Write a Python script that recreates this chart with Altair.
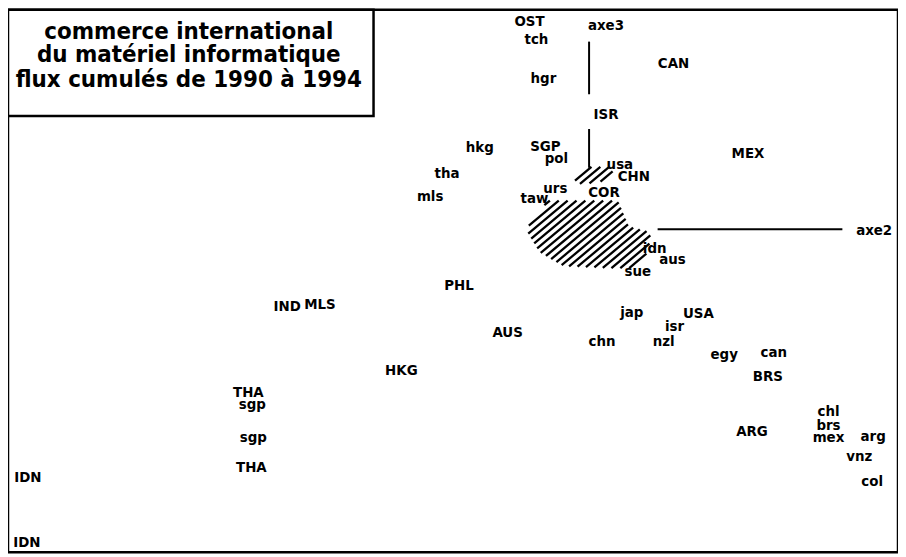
import altair as alt
import pandas as pd
import numpy as np

# ---- data (factor coordinates: axe2 horizontal, axe3 vertical) ----
labels = ["OST", "tch", "hgr", "CAN", "ISR", "hkg", "SGP", "pol", "tha", "usa",
          "CHN", "MEX", "mls", "urs", "COR", "taw", "idn", "aus", "sue", "PHL",
          "IND", "MLS", "jap", "USA", "isr", "AUS", "chn", "nzl", "egy", "can",
          "HKG", "BRS", "THA", "sgp", "chl", "brs", "ARG", "mex", "arg", "sgp",
          "vnz", "THA", "IDN", "col", "IDN"]
axe2 = [-0.60, -0.53, -0.46, 0.85, 0.17, -1.10, -0.44, -0.33, -1.43, 0.31,
        0.45, 1.60, -1.60, -0.34, 0.15, -0.55, 0.66, 0.84, 0.49, -1.31,
        -3.04, -2.71, 0.43, 1.10, 0.86, -0.82, 0.13, 0.75, 1.36, 1.86,
        -1.89, 1.80, -3.43, -3.39, 2.41, 2.41, 1.64, 2.41, 2.86, -3.38,
        2.72, -3.40, -5.65, 2.85, -5.66]
axe3 = [2.11, 1.93, 1.53, 1.68, 1.17, 0.84, 0.85, 0.73, 0.58, 0.67,
        0.55, 0.78, 0.35, 0.43, 0.39, 0.33, -0.18, -0.29, -0.41, -0.55,
        -0.76, -0.74, -0.82, -0.83, -0.96, -1.02, -1.11, -1.11, -1.25, -1.23,
        -1.41, -1.47, -1.63, -1.75, -1.82, -1.96, -2.02, -2.08, -2.07, -2.08,
        -2.27, -2.38, -2.48, -2.52, -3.14]

axis_names = ["axe3", "axe2"]
axis_name_x = [0.17, 2.87]
axis_name_y = [2.07, 0.00]

# axis segments (x, y, x2, y2)
axis_seg_x = [0.0, 0.0, 0.69]
axis_seg_y = [1.90, 1.02, 0.01]
axis_seg_x2 = [0.0, 0.0, 2.55]
axis_seg_y2 = [1.37, 0.63, 0.01]

# hatched zone (outline of the dense cloud of points)
blob_x = [-0.41, 0.29, 0.40, 0.62, 0.60, 0.52, 0.44, 0.19, -0.26, -0.50, -0.62, -0.60]
blob_y = [0.30, 0.30, 0.04, -0.02, -0.20, -0.32, -0.38, -0.38, -0.36, -0.22, -0.02, 0.08]
band_x = [-0.17, -0.03, 0.27, 0.17, -0.08]
band_y = [0.52, 0.64, 0.64, 0.50, 0.46]

title_lines = ["commerce international", "du matériel informatique",
               "flux cumulés de 1990 à 1994"]
title_x = [-4.03, -4.03, -4.03]
title_y = [1.93, 1.69, 1.44]
title_box = dict(x=-5.85, x2=-2.17, y=2.22, y2=1.15)

XDOM = [-5.85, 3.11]
YDOM = [-3.24, 2.22]


def hatch(px, py, angle_deg=40.0, step=0.075):
    """parallel hatch segments clipped to polygon"""
    t = np.tan(np.radians(angle_deg))
    pts = list(zip(px, py))
    n = len(pts)
    cs = [y - t * x for x, y in pts]
    segs = []
    for c in np.arange(min(cs) + step / 2, max(cs), step):
        inter = []
        for i in range(n):
            x1, y1 = pts[i]
            x2, y2 = pts[(i + 1) % n]
            f1 = y1 - t * x1 - c
            f2 = y2 - t * x2 - c
            if (f1 > 0) != (f2 > 0):
                s = f1 / (f1 - f2)
                inter.append((x1 + s * (x2 - x1), y1 + s * (y2 - y1)))
        inter.sort()
        for j in range(0, len(inter) - 1, 2):
            segs.append(dict(x=inter[j][0], y=inter[j][1],
                             x2=inter[j + 1][0], y2=inter[j + 1][1]))
    return segs


hatch_df = pd.DataFrame(hatch(blob_x, blob_y) + hatch(band_x, band_y))
lab_df = pd.DataFrame({"label": labels, "x": axe2, "y": axe3})
axn_df = pd.DataFrame({"label": axis_names, "x": axis_name_x, "y": axis_name_y})
seg_df = pd.DataFrame({"x": axis_seg_x, "y": axis_seg_y, "x2": axis_seg_x2, "y2": axis_seg_y2})
title_df = pd.DataFrame({"t": title_lines, "x": title_x, "y": title_y})
box_df = pd.DataFrame([title_box])

FONT = "DejaVu Sans Condensed, DejaVu Sans"
xs = alt.Scale(domain=XDOM, nice=False, zero=False)
ys = alt.Scale(domain=YDOM, nice=False, zero=False)
X = lambda f="x": alt.X(f, type="quantitative", scale=xs, axis=None)
Y = lambda f="y": alt.Y(f, type="quantitative", scale=ys, axis=None)

hatch_layer = alt.Chart(hatch_df).mark_rule(color="black", strokeWidth=2.3).encode(
    x=X(), y=Y(), x2="x2", y2="y2")

seg_layer = alt.Chart(seg_df).mark_rule(color="black", strokeWidth=2).encode(
    x=X(), y=Y(), x2="x2", y2="y2")

label_layer = alt.Chart(lab_df).mark_text(
    font=FONT, fontWeight="bold", fontSize=15, color="black",
    align="center", baseline="middle").encode(x=X(), y=Y(), text="label")

axn_layer = alt.Chart(axn_df).mark_text(
    font=FONT, fontWeight="bold", fontSize=15, color="black",
    align="center", baseline="middle").encode(x=X(), y=Y(), text="label")

box_layer = alt.Chart(box_df).mark_rect(
    fill="white", stroke="black", strokeWidth=2.5).encode(
    x=X(), x2="x2", y=Y(), y2="y2")

title_layer = alt.Chart(title_df).mark_text(
    font=FONT, fontWeight="bold", fontSize=24, color="black",
    align="center", baseline="alphabetic").encode(x=X(), y=Y(), text="t")

chart = alt.layer(hatch_layer, seg_layer, label_layer, axn_layer,
                  box_layer, title_layer).properties(
    width=896, height=546, padding=0,
    autosize=alt.AutoSizeParams(type="none"),
    background="white",
).configure_view(stroke="black", strokeWidth=2.5)

chart.save("out.html", embed_options={"renderer": "svg", "actions": False})
